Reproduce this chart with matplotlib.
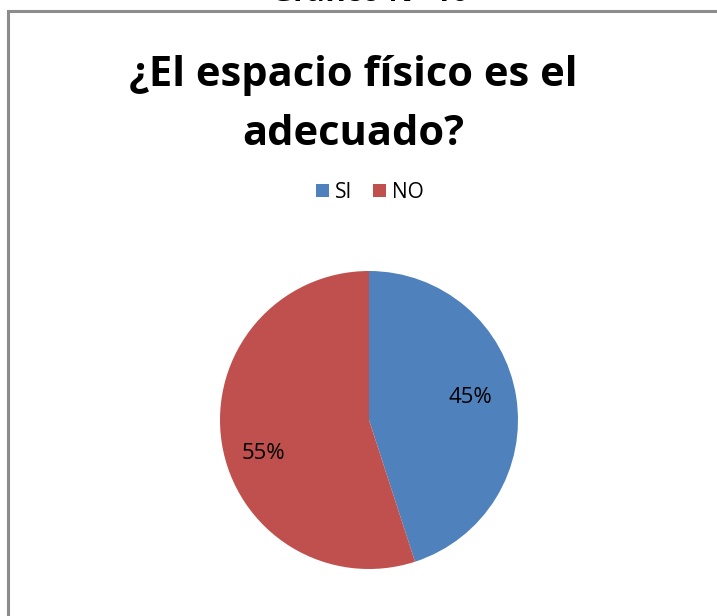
import matplotlib
matplotlib.use("Agg")
import matplotlib.pyplot as plt
from matplotlib.patches import Rectangle

categories = ["SI", "NO"]
values = [45, 55]
colors = ["#4F81BD", "#C0504D"]

W, H = 717, 616
fig = plt.figure(figsize=(W / 100, H / 100), dpi=100)
plt.rcParams["font.family"] = ["Open Sans", "DejaVu Sans"]

# chart frame
fig.patches.append(Rectangle((8 / W, -0.1), (W + 20) / W, (H - 11) / H + 0.1,
                             transform=fig.transFigure, fill=False,
                             edgecolor="#8c8c8c", linewidth=2.2))

# caption above the frame, partly outside the canvas
fig.text(370 / W, 1 + 7 / H, "Gráfico N° 10", ha="center", va="center",
         fontsize=22, fontweight="bold", color="black")

fig.text(353 / W, 1 - 75 / H, "¿El espacio físico es el", ha="center", va="center",
         fontsize=30, fontweight="bold", color="black")
fig.text(353 / W, 1 - 135 / H, "adecuado?", ha="center", va="center",
         fontsize=30, fontweight="bold", color="black")

cx, cy, r = 369, 420, 149
ax = fig.add_axes([(cx - r) / W, 1 - (cy + r) / H, 2 * r / W, 2 * r / H])
wedges, texts, autotexts = ax.pie(values, colors=colors, startangle=90, counterclock=False,
                                  autopct="%1.0f%%", pctdistance=0.72,
                                  textprops=dict(fontsize=16, color="black"),
                                  wedgeprops=dict(linewidth=0))
# nudge the percentage labels slightly
x0, y0 = autotexts[0].get_position()
autotexts[0].set_position((x0 - 0.03, y0 + 0.04))
x1, y1 = autotexts[1].get_position()
autotexts[1].set_position((x1, y1 - 0.11))

ax.set_xlim(-1, 1)
ax.set_ylim(-1, 1)
ax.set_aspect("equal")

fig.legend(wedges, categories, loc="center", bbox_to_anchor=(370 / W, 1 - 192 / H),
           ncol=2, frameon=False, fontsize=15, handlelength=0.6, handleheight=0.6,
           handletextpad=0.3, columnspacing=1.0)

fig.savefig("out.png", dpi=100)
